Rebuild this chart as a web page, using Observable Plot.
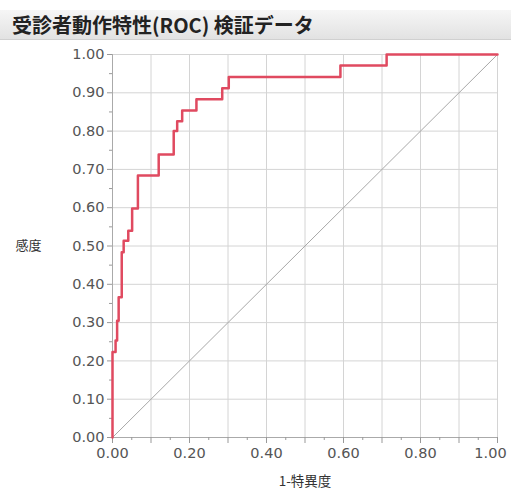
<!DOCTYPE html>
<html>
<head>
<meta charset="utf-8">
<script src="https://cdn.jsdelivr.net/npm/d3@7"></script>
<script src="https://cdn.jsdelivr.net/npm/@observablehq/plot@0.6"></script>
<style>
  html, body { margin: 0; padding: 0; background: #fff; }
  #title {
    margin-top: 10px;
    height: 30px;
    line-height: 30px;
    padding-left: 12px;
    font-family: "Noto Sans CJK JP", sans-serif;
    font-weight: bold;
    font-size: 20px;
    color: #222;
    background: linear-gradient(#f6f6f6, #e2e2e2);
    border-bottom: 1px solid #d0d0d0;
    box-sizing: border-box;
  }
</style>
</head>
<body>
<div id="title">受診者動作特性(ROC) 検証データ</div>
<div id="chart"></div>
<script>
// ROC curve corner points (1-specificity, sensitivity)
const fpr = [0, 0, 0.008, 0.012, 0.016, 0.024, 0.029, 0.041, 0.051, 0.066, 0.12, 0.159, 0.168, 0.181, 0.218, 0.285, 0.302, 0.592, 0.712, 1.0];
const tpr = [0, 0.223, 0.253, 0.305, 0.366, 0.484, 0.514, 0.54, 0.598, 0.684, 0.739, 0.80, 0.826, 0.854, 0.883, 0.912, 0.941, 0.971, 1.0, 1.0];
// reference diagonal
const diagX = [0, 1];
const diagY = [0, 1];
// ticks
const yTicks = [0, 0.1, 0.2, 0.3, 0.4, 0.5, 0.6, 0.7, 0.8, 0.9, 1.0];
const xLabelTicks = [0, 0.2, 0.4, 0.6, 0.8];
const xLastTick = [1.0];
const gridTicks = [0, 0.1, 0.2, 0.3, 0.4, 0.5, 0.6, 0.7, 0.8, 0.9, 1.0];
const minorTicks = [0.05, 0.15, 0.25, 0.35, 0.45, 0.55, 0.65, 0.75, 0.85, 0.95];
const xLabel = "1-特異度";
const yLabel = "感度";

const roc = fpr.map((x, i) => ({x, y: tpr[i]}));
const diag = diagX.map((x, i) => ({x, y: diagY[i]}));

const tickFont = {fill: "#555", fontSize: 14.5};

const chart = Plot.plot({
  width: 511,
  height: 448,
  marginLeft: 112,
  marginRight: 14,
  marginTop: 14,
  marginBottom: 51,
  style: {fontFamily: "'DejaVu Sans', sans-serif", fontSize: "13px", color: "#555", background: "#fff"},
  x: {domain: [0, 1]},
  y: {domain: [0, 1]},
  marks: [
    Plot.gridX(gridTicks, {stroke: "#d4d4d4", strokeOpacity: 1}),
    Plot.gridY(gridTicks, {stroke: "#d4d4d4", strokeOpacity: 1}),
    Plot.ruleX([0], {stroke: "#aaa"}),
    Plot.ruleY([0], {stroke: "#aaa"}),
    Plot.axisY(yTicks, {tickFormat: ".2f", tickSize: 5, tickPadding: 3, stroke: "#999", ...tickFont, label: null}),
    Plot.axisY(minorTicks, {tickFormat: () => "", tickSize: 3, stroke: "#999", label: null}),
    Plot.axisX(xLabelTicks, {tickFormat: ".2f", tickSize: 0, tickPadding: 10, ...tickFont, label: null}),
    Plot.axisX(xLastTick, {tickFormat: ".2f", tickSize: 0, tickPadding: 10, dx: -7, ...tickFont, label: null}),
    Plot.axisX(gridTicks, {tickFormat: () => "", tickSize: 6, stroke: "#999", label: null}),
    Plot.axisX(minorTicks, {tickFormat: () => "", tickSize: 3, stroke: "#999", label: null}),
    Plot.line(diag, {x: "x", y: "y", stroke: "#a8a8a8", strokeWidth: 1}),
    Plot.line(roc, {x: "x", y: "y", curve: "step-after", stroke: "#e04a60", strokeWidth: 2.5}),
    Plot.text([xLabel], {frameAnchor: "bottom", dy: 48, fontFamily: "'Noto Sans CJK JP', sans-serif", fontSize: 13.5, fill: "#333"}),
    Plot.text([yLabel], {frameAnchor: "left", dx: -97, textAnchor: "start", fontFamily: "'Noto Sans CJK JP', sans-serif", fontSize: 13, fill: "#333"})
  ]
});
document.getElementById("chart").appendChild(chart);
</script>
</body>
</html>
